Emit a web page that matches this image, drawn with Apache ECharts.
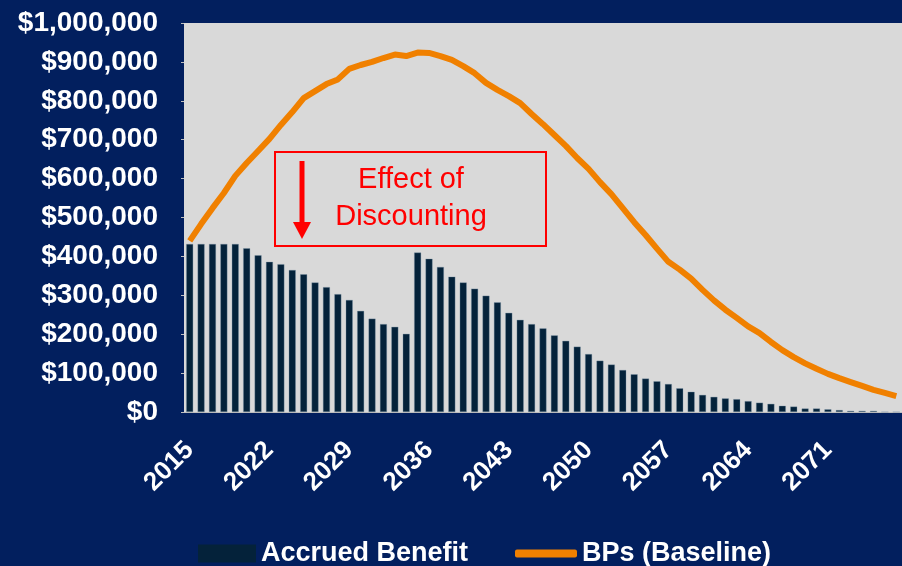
<!DOCTYPE html>
<html>
<head>
<meta charset="utf-8">
<script src="https://cdn.jsdelivr.net/npm/echarts@6/dist/echarts.min.js"></script>
<style>
  html, body { margin: 0; padding: 0; background: #021f5e; }
  #chart { width: 902px; height: 566px; }
</style>
</head>
<body>
<div id="chart"></div>
<script>
// 年份（类目轴）
var years = ['2015', '2016', '2017', '2018', '2019', '2020', '2021', '2022', '2023', '2024',
  '2025', '2026', '2027', '2028', '2029', '2030', '2031', '2032', '2033', '2034',
  '2035', '2036', '2037', '2038', '2039', '2040', '2041', '2042', '2043', '2044',
  '2045', '2046', '2047', '2048', '2049', '2050', '2051', '2052', '2053', '2054',
  '2055', '2056', '2057', '2058', '2059', '2060', '2061', '2062', '2063', '2064',
  '2065', '2066', '2067', '2068', '2069', '2070', '2071', '2072', '2073', '2074',
  '2075', '2076', '2077']

// Accrued Benefit 柱
var accruedBenefit = [432000, 432000, 432000, 432000, 432000, 421000, 403000, 386000, 380000, 365000,
  354000, 333000, 321000, 303000, 288000, 260000, 240000, 226000, 219000, 201000,
  410000, 394000, 373000, 348000, 333000, 317000, 299000, 282000, 255000, 237000,
  226000, 215000, 197000, 183000, 168000, 149000, 132000, 122000, 108000, 97000,
  86000, 79000, 72000, 61000, 52000, 44000, 39000, 35000, 33000, 28000,
  24000, 21000, 16000, 14000, 9000, 9000, 7000, 5000, 3000, 3000,
  3000, 0, 0]

// BPs (Baseline) 折线
var bpsBaseline = [440000, 483000, 524000, 563000, 607000, 640000, 671000, 702000, 738000, 771000,
  807000, 825000, 843000, 855000, 882000, 892000, 900000, 910000, 919000, 915000,
  924000, 923000, 915000, 905000, 889000, 871000, 846000, 828000, 812000, 794000,
  766000, 740000, 712000, 684000, 653000, 625000, 591000, 560000, 524000, 488000,
  455000, 420000, 386000, 366000, 343000, 314000, 287000, 263000, 242000, 220000,
  203000, 180000, 159000, 141000, 125000, 111000, 98000, 87000, 77000, 67000,
  57000, 49000, 41000]

var seriesNames = ['Accrued Benefit', 'BPs (Baseline)']
var font = 'Liberation Sans'

var chart = echarts.init(document.getElementById('chart'))
chart.setOption({
  backgroundColor: '#021f5e',
  animation: false,
  grid: {
    left: 184,
    right: -4,
    top: 23,
    bottom: 154,
    show: true,
    backgroundColor: '#d9d9d9',
    borderWidth: 0
  },
  legend: [
    {
      data: [seriesNames[0]],
      left: 193,
      top: 535,
      itemWidth: 58,
      itemHeight: 18,
      icon: 'rect',
      itemStyle: { borderWidth: 0 },
      textStyle: { color: '#ffffff', fontFamily: font, fontWeight: 'bold', fontSize: 27 }
    },
    {
      data: [seriesNames[1]],
      left: 510,
      top: 535,
      itemWidth: 62,
      itemHeight: 8,
      icon: 'roundRect',
      textStyle: { color: '#ffffff', fontFamily: font, fontWeight: 'bold', fontSize: 27 }
    }
  ],
  xAxis: {
    type: 'category',
    data: years,
    boundaryGap: true,
    axisLine: { lineStyle: { color: '#bfbfbf', width: 1 } },
    axisTick: { interval: 6, length: 12, lineStyle: { color: '#bfbfbf', width: 2 } },
    axisLabel: {
      interval: 6,
      rotate: 45,
      margin: 34,
      color: '#ffffff',
      fontFamily: font,
      fontWeight: 'bold',
      fontSize: 26
    }
  },
  yAxis: {
    type: 'value',
    min: 0,
    max: 1000000,
    interval: 100000,
    splitLine: { show: false },
    axisLine: { show: false },
    axisTick: { show: true, length: 3, lineStyle: { color: '#bfbfbf' } },
    axisLabel: {
      margin: 26,
      color: '#ffffff',
      fontFamily: font,
      fontWeight: 'bold',
      fontSize: 28,
      formatter: function (v) {
        return '$' + v.toLocaleString('en-US')
      }
    }
  },
  series: [
    {
      name: seriesNames[0],
      type: 'bar',
      data: accruedBenefit,
      barWidth: 7,
      itemStyle: { color: '#04223a', borderColor: 'rgba(120,145,165,0.7)', borderWidth: 0.5 }
    },
    {
      name: seriesNames[1],
      type: 'line',
      data: bpsBaseline,
      symbol: 'none',
      itemStyle: { color: '#f08000' },
      lineStyle: { color: '#f08000', width: 6 }
    }
  ],
  // 注释框
  graphic: [
    {
      type: 'rect',
      shape: { x: 275, y: 152, width: 271, height: 94 },
      style: { fill: 'none', stroke: '#ff0000', lineWidth: 2 },
      z: 100
    },
    {
      type: 'text',
      x: 411,
      y: 198,
      style: {
        text: 'Effect of\nDiscounting',
        fill: '#ff0000',
        font: '29px "Liberation Sans"',
        align: 'center',
        verticalAlign: 'middle',
        lineHeight: 37
      },
      z: 100
    },
    {
      type: 'line',
      shape: { x1: 302, y1: 161, x2: 302, y2: 226 },
      style: { stroke: '#ff0000', lineWidth: 5 },
      z: 100
    },
    {
      type: 'polygon',
      shape: { points: [[293, 222], [311, 222], [302, 239]] },
      style: { fill: '#ff0000' },
      z: 100
    }
  ]
})
</script>
</body>
</html>
